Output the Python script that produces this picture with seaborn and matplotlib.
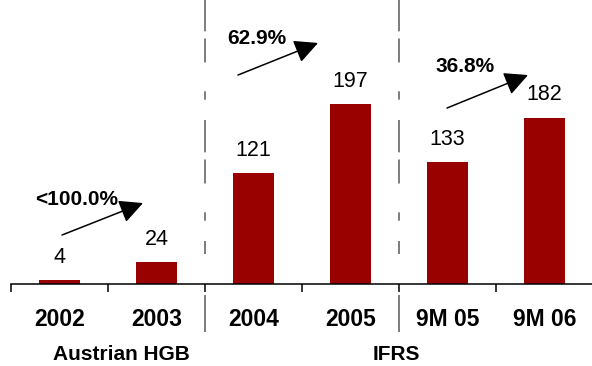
import matplotlib
matplotlib.use("Agg")
import matplotlib.pyplot as plt
import matplotlib.transforms as mtransforms
import seaborn as sns
import pandas as pd

# Data
categories = ["2002", "2003", "2004", "2005", "9M 05", "9M 06"]
values = [4, 24, 121, 197, 133, 182]
growth_labels = ["<100.0%", "62.9%", "36.8%"]
group_labels = ["Austrian HGB", "IFRS"]

sns.set_style("white")
plt.rcParams["font.family"] = ["Liberation Sans", "DejaVu Sans"]

BAR_RED = "#990000"
W, H = 592, 366
fig = plt.figure(figsize=(W / 100, H / 100), dpi=100)
ax = fig.add_axes([11 / W, 82 / H, 582 / W, 284 / H])

df = pd.DataFrame({"period": categories, "value": values})
sns.barplot(data=df, x="period", y="value", color=BAR_RED, saturation=1,
            width=0.42, linewidth=0, ax=ax)

ax.set_xlim(-0.5, 5.5)
ymax = 284 * 197 / 180
ax.set_ylim(0, ymax)
ax.set_xlabel("")
ax.set_ylabel("")
ax.set_yticks([])
for s in ["left", "right", "top"]:
    ax.spines[s].set_visible(False)
ax.spines["bottom"].set_linewidth(1.1)
ax.spines["bottom"].set_color("black")

# category labels without tick marks; tick marks sit between categories
ax.set_xticks(range(len(categories)))
ax.set_xticklabels(categories, fontsize=16.5, fontweight="bold")
ax.tick_params(axis="x", which="major", bottom=True, length=0, pad=17,
               labelcolor="black")
ax.set_xticks([i - 0.5 for i in range(len(categories))], minor=True)
ax.tick_params(axis="x", which="minor", bottom=True, length=6, width=1.1,
               color="black", direction="out")

# value labels above bars
for i, v in enumerate(values):
    ax.annotate(str(v), xy=(i, v), xytext=(0, 16.5), textcoords="offset points",
                ha="center", va="center", fontsize=15.5, color="black")

# growth arrows between periods
arrow_kw = dict(arrowstyle="-|>,head_length=1.0,head_width=0.5",
                mutation_scale=14.4, lw=1.1, color="black",
                shrinkA=0, shrinkB=0)
arrows = [((0.026, 53.6), (0.861, 88.6)),
          ((1.84, 228.7), (2.665, 263.8)),
          ((3.995, 192.6), (4.83, 228.7))]
label_pos = [(0.18, 92.0), (2.036, 269.0), (4.18, 237.5)]
for (tail, tip), lab, pos in zip(arrows, growth_labels, label_pos):
    ax.annotate("", xy=tip, xytext=tail, arrowprops=arrow_kw)
    ax.text(pos[0], pos[1], lab, ha="center", va="center", fontsize=15,
            fontweight="bold", color="black")

# separators between reporting standards
trans = mtransforms.blended_transform_factory(ax.transData, fig.transFigure)
for xs in (1.5, 3.5):
    ax.plot([xs, xs], [1 + 3 / H, 1 - 254 / H], transform=trans, clip_on=False,
            color="#666666", lw=1.2, dashes=(19.4, 4.3, 14.4, 17.3, 5.0, 12.2),
            solid_capstyle="butt", dash_capstyle="butt")
    ax.plot([xs, xs], [1 - 295 / H, 1 - 332 / H], transform=trans, clip_on=False,
            color="#666666", lw=1.2, solid_capstyle="butt")

# accounting standard group labels
for xg, lab in zip((0.634, 3.47), group_labels):
    ax.text(xg, 1 - 355 / H, lab, transform=trans, ha="center", va="center",
            fontsize=15, fontweight="bold", color="black")

fig.savefig("out.png", dpi=100)
